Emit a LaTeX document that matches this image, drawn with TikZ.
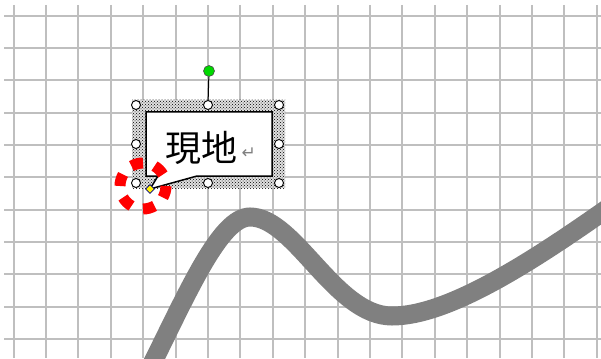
\documentclass[tikz,border=0pt]{standalone}
\usepackage{fontspec}
\newfontfamily\jpfont{Noto Sans CJK JP}
\newfontfamily\symfont{DejaVu Sans}
\usetikzlibrary{patterns,shapes.geometric}

\tikzset{
  gridline/.style={draw=black!25, line width=2pt},
  handle/.style={circle, draw=black, fill=white, line width=0.9pt, inner sep=0pt, minimum size=9pt},
  redmark/.style={draw=red, line width=11pt}
}

\begin{document}
\begin{tikzpicture}[x=1pt, y=-1pt]
\useasboundingbox (0,0) rectangle (601,358);
% background grid
\foreach \i in {0,...,18} \draw[gridline] ({13.5+32.4*\i},5) -- ({13.5+32.4*\i},358);
\foreach \j in {0,...,10} \draw[gridline] (4,{15.8+32.3*\j}) -- (601,{15.8+32.3*\j});
% route
\begin{scope}
\clip (0,0) rectangle (601,358);
\draw[gray, line width=19pt] (149,370) .. controls (188,292) and (220,217) .. (250,217)
  .. controls (295,217) and (335,316) .. (392,316)
  .. controls (447,316) and (528,264) .. (601,213) -- (625,196);
\end{scope}
% selection frame
\fill[black!12] (132,100) rectangle (285,188);
\fill[pattern=crosshatch dots, pattern color=black] (132,100) rectangle (285,188);
% callout
\draw[fill=white, line width=1.5pt] (146,112) -- (272,112) -- (272,176) -- (197,176)
  -- (150,189) -- (158,176) -- (146,176) -- cycle;
\node (label) at (201,148) {\fontsize{36}{36}\selectfont\jpfont 現地};
\node[text=black!50, anchor=west] (ret) at (238,153) {\fontsize{17}{17}\selectfont\symfont ↵};
% handles
\node[handle] (h-nw) at (136,105) {};
\node[handle] (h-n) at (208,105) {};
\node[handle] (h-ne) at (279,105) {};
\node[handle] (h-w) at (136,144) {};
\node[handle] (h-e) at (279,144) {};
\node[handle] (h-sw) at (136,183) {};
\node[handle] (h-s) at (208,183) {};
\node[handle] (h-se) at (279,183) {};
\node[circle, draw=black!70, fill=green!85!black, line width=0.6pt, inner sep=0pt, minimum size=11pt] (rot) at (209,71) {};
\draw[line width=1pt] (rot) -- (h-n);
% pointer adjustment
\node[diamond, fill=yellow, draw=blue!50!black, line width=0.6pt, inner sep=0pt, minimum size=9pt] (tip) at (150,189) {};
\coordinate (ring) at (143,186);
\foreach \a in {15,75,...,315}
  \draw[redmark] ([shift={(\a-15:23)}]ring) arc[start angle=\a-15, end angle=\a+15, radius=23];
\end{tikzpicture}
\end{document}
